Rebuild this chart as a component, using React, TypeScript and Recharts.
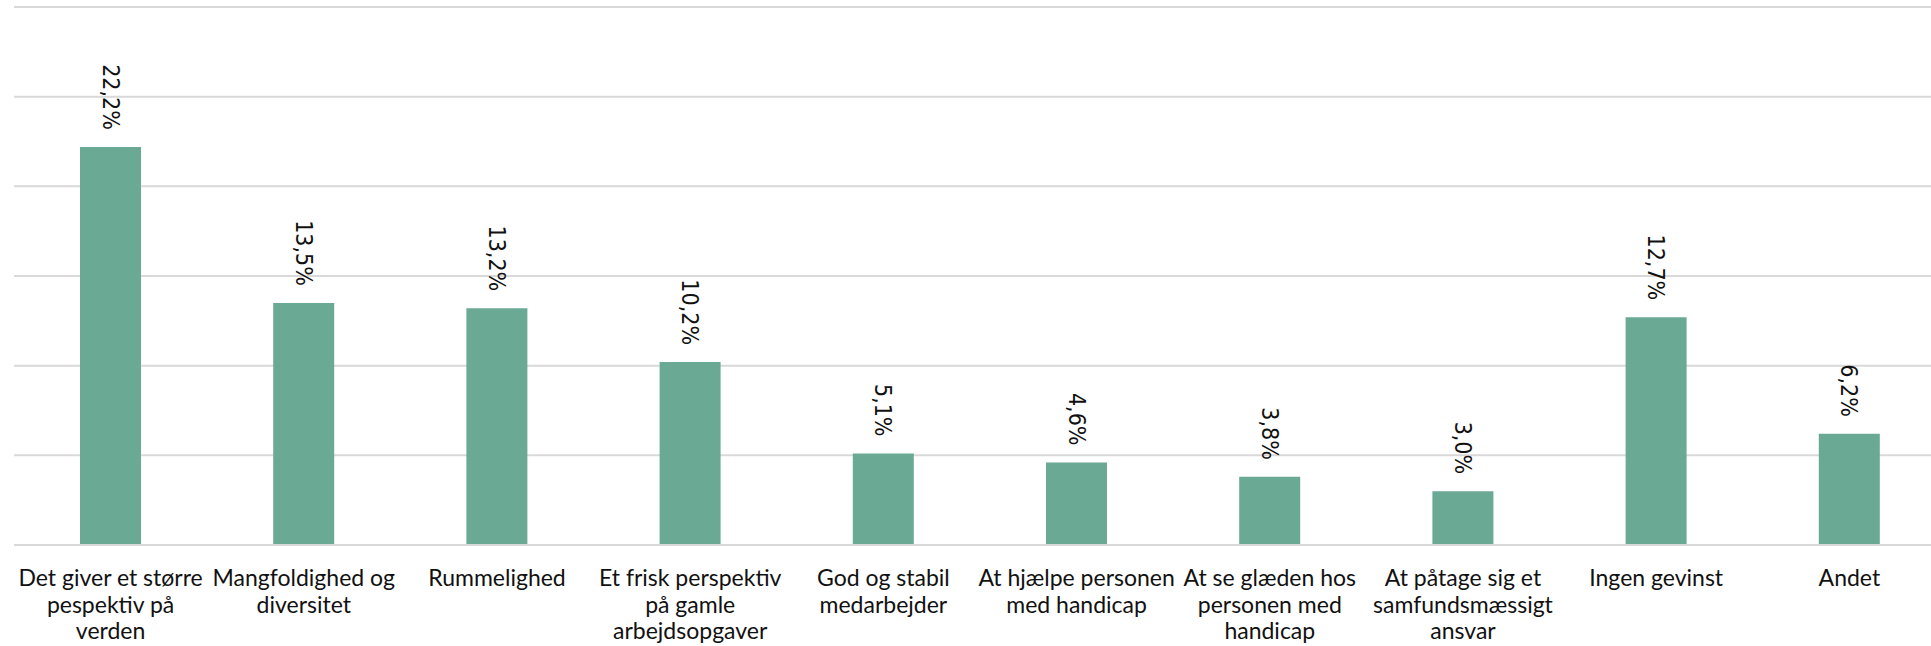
import React from "react";
import { BarChart, Bar, XAxis, YAxis, CartesianGrid, LabelList } from "recharts";

// Category labels (line breaks mark where each label wraps)
const categories: string[] = [
  "Det giver et større\npespektiv på\nverden",
  "Mangfoldighed og\ndiversitet",
  "Rummelighed",
  "Et frisk perspektiv\npå gamle\narbejdsopgaver",
  "God og stabil\nmedarbejder",
  "At hjælpe personen\nmed handicap",
  "At se glæden hos\npersonen med\nhandicap",
  "At påtage sig et\nsamfundsmæssigt\nansvar",
  "Ingen gevinst",
  "Andet",
];

// Share of respondents, in percent
const shares: number[] = [22.2, 13.5, 13.2, 10.2, 5.1, 4.6, 3.8, 3.0, 12.7, 6.2];

// Value axis ticks (gridlines)
const yTicks: number[] = [0, 5, 10, 15, 20, 25, 30];

const data = categories.map((name, i) => ({ name, value: shares[i] }));

const BAR_COLOR = "#6AA994";
const GRID_COLOR = "#D9D9D9";

const formatPct = (v: number) => v.toFixed(1).replace(".", ",") + "%";

const CategoryTick = (props: any) => {
  const { x, y, payload } = props;
  const lines = String(payload.value).split("\n");
  return (
    <g>
      {lines.map((line: string, i: number) => (
        <text
          key={i}
          x={x}
          y={y + 41 + i * 26.5}
          textAnchor="middle"
          fill="#111"
          fontFamily="Lato, 'Open Sans', sans-serif"
          fontSize={23}
        >
          {line}
        </text>
      ))}
    </g>
  );
};

const ValueLabel = (props: any) => {
  const { x, y, width, value } = props;
  const cx = x + width / 2;
  const ay = y - 17;
  return (
    <text
      x={cx}
      y={ay}
      transform={`rotate(90, ${cx}, ${ay})`}
      textAnchor="end"
      dominantBaseline="central"
      fill="#111"
      fontFamily="'DejaVu Sans Condensed', 'DejaVu Sans', sans-serif"
      fontStretch="condensed"
      fontSize={23}
    >
      {formatPct(Number(value))}
    </text>
  );
};

export default function App() {
  return (
    <div
      style={{
        position: "fixed",
        left: 0,
        top: 0,
        width: 1931,
        height: 646,
        overflow: "hidden",
        background: "#fff",
      }}
    >
      <BarChart
        width={1960}
        height={646}
        data={data}
        margin={{ top: 7, right: 14, bottom: 0, left: 14 }}
        barSize={61}
      >
        <CartesianGrid vertical={false} stroke={GRID_COLOR} strokeWidth={2} />
        <YAxis hide domain={[0, 30]} ticks={yTicks} />
        <XAxis
          dataKey="name"
          height={101}
          interval={0}
          tickLine={false}
          tickSize={0}
          tickMargin={0}
          axisLine={{ stroke: GRID_COLOR, strokeWidth: 2 }}
          tick={<CategoryTick />}
        />
        <Bar dataKey="value" fill={BAR_COLOR} isAnimationActive={false}>
          <LabelList dataKey="value" content={<ValueLabel />} />
        </Bar>
      </BarChart>
    </div>
  );
}
